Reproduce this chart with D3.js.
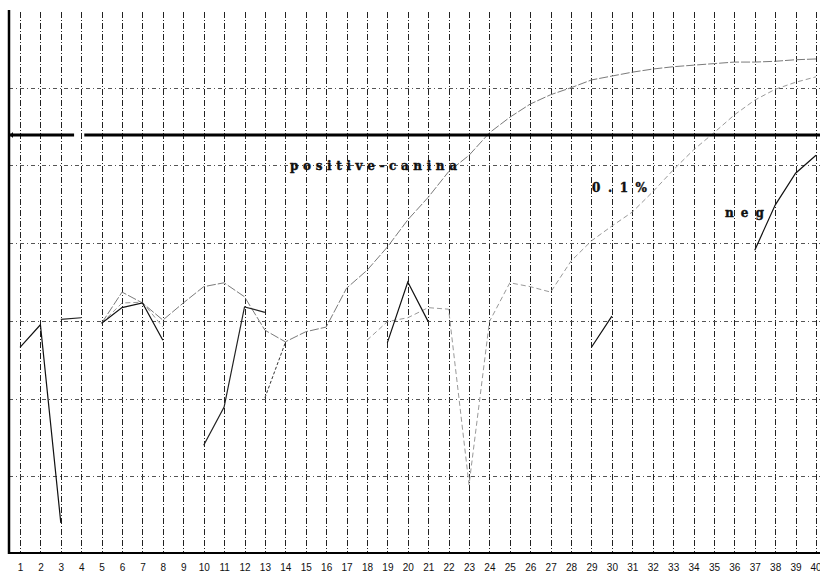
<!DOCTYPE html>
<html>
<head>
<meta charset="utf-8">
<script src="https://cdn.jsdelivr.net/npm/d3@7"></script>
<style>
    body { margin: 0; background: #fff; }
    .cycle-axis text { font-family: "Liberation Sans", Arial, sans-serif; font-size: 10px; fill: #111; }
    .curve-label { font-family: "DejaVu Serif", serif; font-weight: bold; font-size: 12px; fill: #111; stroke: #111; stroke-width: 0.4px; }
</style>
</head>
<body>
<div id="chart"></div>
<script>

// cycles on the x axis
const cycles = d3.range(1, 41);

// fluorescence readings per cycle (null = no trace visible)
const positiveCanina = [null, null, null, null, 2.97, 3.37, 3.23, 3.01, 3.23, 3.44,
    3.49, 3.31, 2.88, 2.73, 2.86, 2.92, 3.42, 3.65, 3.95, 4.30,
    4.59, 4.92, 5.13, 5.42, 5.62, 5.79, 5.91, 6.00, 6.10, 6.15,
    6.20, 6.24, 6.27, 6.29, 6.31, 6.33, 6.33, 6.34, 6.36, 6.37];

const pointOnePct = [null, null, null, null, 2.97, 3.23, 3.24, 2.92, null, null,
    null, null, null, null, null, null, null, 2.75, 2.99, 3.04,
    3.17, 3.15, 0.89, 2.99, 3.49, 3.44, 3.37, 3.77, 4.03, 4.22,
    4.40, 4.66, 4.94, 5.20, 5.42, 5.65, 5.84, 5.98, 6.07, 6.14];

const negative = [2.66, 2.95, 0.40, null, 2.97, 3.17, 3.23, 2.75, null, null,
    null, null, null, null, null, null, null, null, 2.72, 3.50,
    2.99, null, null, null, null, null, null, null, 2.66, 3.06,
    null, null, null, null, null, null, 3.91, 4.49, 4.90, 5.13];

const sampleD = [null, null, 3.02, 3.04, null, null, null, null, null, 1.40,
    1.89, 3.18, 3.11, null, null, null, null, null, null, null,
    null, null, null, null, null, null, null, null, null, null,
    null, null, null, null, null, null, null, null, null, null];

const sampleE = [null, null, null, null, null, null, null, null, null, null,
    null, null, 2.01, 2.72, null, null, null, null, null, null,
    null, null, null, null, null, null, null, null, null, null,
    null, null, null, null, null, null, null, null, null, null];

// horizontal grid levels and threshold
const gridLevels = [1, 2, 3, 4, 5, 6];
const threshold = 5.39;

// curve labels: text, start cycle, end cycle, level
const labelTexts = ["positive-canina", "0.1%", "neg"];
const labelFrom = [14.23, 29.03, 35.54];
const labelTo = [22.41, 31.72, 37.45];
const labelLevel = [4.94, 4.66, 4.34];

class AmpPlot {
    constructor(parentElement) {
        this.parentElement = parentElement;
        this.initVis();
    }

    initVis() {
        let vis = this;

        vis.width = 820;
        vis.height = 574;

        vis.svg = d3.select("#" + vis.parentElement).append("svg")
            .attr("width", vis.width)
            .attr("height", vis.height);

        // scales
        vis.x = d3.scaleLinear().domain([1, 40]).range([20, 816]);
        vis.y = d3.scaleLinear().domain([0, 7]).range([554, 10]);

        vis.left = 9;
        vis.right = 820;

        vis.updateVis();
    }

    updateVis() {
        let vis = this;

        // vertical grid, one per cycle
        vis.svg.append("g")
            .selectAll("line")
            .data(cycles)
            .enter().append("line")
            .attr("x1", d => Math.round(vis.x(d)) + 0.5)
            .attr("x2", d => Math.round(vis.x(d)) + 0.5)
            .attr("y1", 12)
            .attr("y2", vis.y(0))
            .attr("stroke", "#222")
            .attr("stroke-width", 1)
            .style("stroke-dasharray", "6,2,1,2");

        // horizontal grid
        vis.svg.append("g")
            .selectAll("line")
            .data(gridLevels)
            .enter().append("line")
            .attr("x1", vis.left)
            .attr("x2", vis.right)
            .attr("y1", d => Math.round(vis.y(d)) + 0.5)
            .attr("y2", d => Math.round(vis.y(d)) + 0.5)
            .attr("stroke", "#555")
            .attr("stroke-width", 1)
            .style("stroke-dasharray", "4,3,1,3");

        // curves
        let line = d3.line()
            .defined(d => d[1] !== null)
            .x(d => vis.x(d[0]))
            .y(d => vis.y(d[1]));

        let series = [
            {values: positiveCanina, color: "#7a7a7a", width: 1, dash: "9,2"},
            {values: pointOnePct, color: "#999", width: 1, dash: "5,3"},
            {values: negative, color: "#111", width: 1.2, dash: null},
            {values: sampleD, color: "#222", width: 1.2, dash: null},
            {values: sampleE, color: "#333", width: 1, dash: "3,2"}
        ];

        series.forEach(s => {
            vis.svg.append("path")
                .datum(cycles.map((c, i) => [c, s.values[i]]))
                .attr("fill", "none")
                .attr("stroke", s.color)
                .attr("stroke-width", s.width)
                .style("stroke-dasharray", s.dash)
                .attr("d", line);
        });

        // threshold line (broken near cycle 4 like the original)
        let ty = vis.y(threshold);
        vis.svg.append("line")
            .attr("x1", vis.left).attr("x2", vis.x(3.65))
            .attr("y1", ty).attr("y2", ty)
            .attr("stroke", "#000").attr("stroke-width", 3);
        vis.svg.append("line")
            .attr("x1", vis.x(4.15)).attr("x2", vis.right)
            .attr("y1", ty).attr("y2", ty)
            .attr("stroke", "#000").attr("stroke-width", 3);
        vis.svg.append("path")
            .attr("d", `M${vis.left + 1},${ty} l3,-3 l0,6 z`)
            .attr("fill", "#000");

        // axes
        vis.svg.append("line")
            .attr("x1", vis.left).attr("x2", vis.left)
            .attr("y1", 10).attr("y2", vis.y(0))
            .attr("stroke", "#000").attr("stroke-width", 2.5);
        vis.svg.append("line")
            .attr("x1", vis.left).attr("x2", vis.right)
            .attr("y1", 553).attr("y2", 553)
            .attr("stroke", "#000").attr("stroke-width", 2);

        vis.xAxis = d3.axisBottom(vis.x)
            .tickValues(cycles)
            .tickFormat(d3.format("d"))
            .tickSize(0)
            .tickPadding(11);

        vis.svg.append("g")
            .attr("class", "cycle-axis")
            .attr("transform", "translate(0,553)")
            .call(vis.xAxis)
            .call(g => g.select(".domain").remove())
            .call(g => g.selectAll(".tick:last-of-type text").attr("text-anchor", "end").attr("dx", "5"));

        // curve labels
        vis.svg.selectAll(".curve-label")
            .data(labelTexts)
            .enter().append("text")
            .attr("class", "curve-label")
            .attr("x", (d, i) => vis.x(labelFrom[i]))
            .attr("y", (d, i) => vis.y(labelLevel[i]))
            .attr("textLength", (d, i) => vis.x(labelTo[i]) - vis.x(labelFrom[i]))
            .attr("lengthAdjust", "spacing")
            .text(d => d);
    }
}

new AmpPlot("chart");
</script>
</body>
</html>
